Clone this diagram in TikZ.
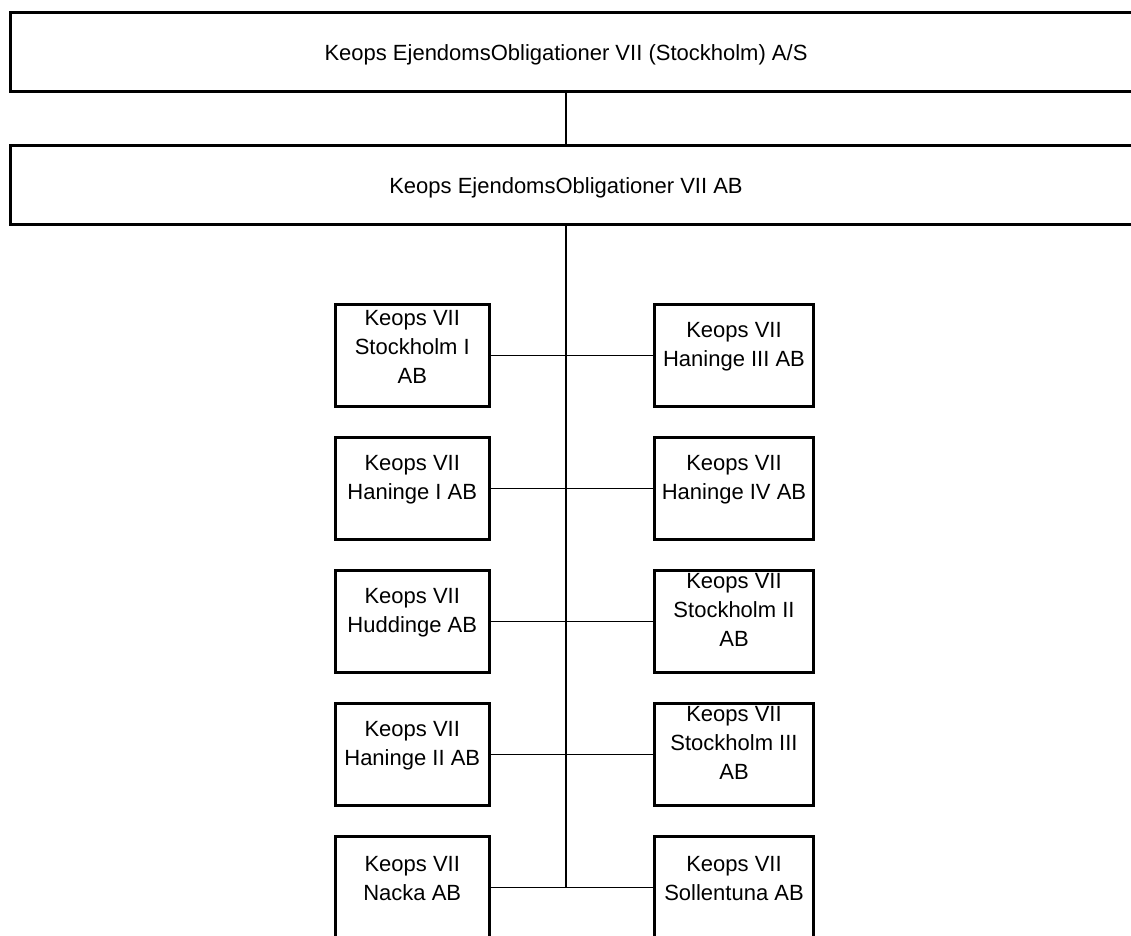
\documentclass[tikz,border=0pt]{standalone}
\usepackage{fontspec}
\setmainfont{Liberation Sans}
\begin{document}
\begin{tikzpicture}[x=1pt,y=-1pt,
  bigbox/.style={draw, line width=3pt, rectangle, inner sep=0pt, minimum width=1190pt, minimum height=79pt},
  cobox/.style={draw, line width=3pt, rectangle, inner sep=0pt, minimum height=102pt},
  lbox/.style={cobox, minimum width=154.5pt},
  rbox/.style={cobox, minimum width=159pt},
  txt/.style={align=center, font=\fontsize{22}{29}\selectfont, inner sep=0pt},
  link/.style={line width=1.2pt}]
\useasboundingbox (0,0) rectangle (1131,935);
\clip (0,0) rectangle (1131,935);
\fill[white] (0,0) rectangle (1131,935);
% top boxes
\node[bigbox] (top) at (605.5,52) {};
\node[txt] (topt) at (566,55) {Keops EjendomsObligationer VII (Stockholm) A/S};
\node[bigbox] (mid) at (605.5,185) {};
\node[txt] (midt) at (566,188) {Keops EjendomsObligationer VII AB};
% left column
\node[lbox] (L1) at (412.25,355.5) {};
\node[lbox] (L2) at (412.25,488.5) {};
\node[lbox] (L3) at (412.25,621.5) {};
\node[lbox] (L4) at (412.25,754.5) {};
\node[lbox] (L5) at (412.25,887.5) {};
% right column
\node[rbox] (R1) at (734,355.5) {};
\node[rbox] (R2) at (734,488.5) {};
\node[rbox] (R3) at (734,621.5) {};
\node[rbox] (R4) at (734,754.5) {};
\node[rbox] (R5) at (734,887.5) {};
% texts
\node[txt] (L1t) at ([yshift=9pt]L1.center) {Keops VII\\Stockholm I\\AB};
\node[txt] (L2t) at ([yshift=9pt]L2.center) {Keops VII\\Haninge I AB};
\node[txt] (L3t) at ([yshift=9pt]L3.center) {Keops VII\\Huddinge AB};
\node[txt] (L4t) at ([yshift=9pt]L4.center) {Keops VII\\Haninge II AB};
\node[txt] (L5t) at ([yshift=9pt]L5.center) {Keops VII\\Nacka AB};
\node[txt] (R1t) at ([yshift=9pt]R1.center) {Keops VII\\Haninge III AB};
\node[txt] (R2t) at ([yshift=9pt]R2.center) {Keops VII\\Haninge IV AB};
\node[txt] (R3t) at ([yshift=12pt]R3.center) {Keops VII\\Stockholm II\\AB};
\node[txt] (R4t) at ([yshift=12pt]R4.center) {Keops VII\\Stockholm III\\AB};
\node[txt] (R5t) at ([yshift=9pt]R5.center) {Keops VII\\Sollentuna AB};
% connectors
\coordinate (trunk) at (566,0);
\draw[link] (top.south -| trunk) -- (mid.north -| trunk);
\draw[link] (mid.south -| trunk) -- (L5.east -| trunk);
\foreach \i in {1,...,5}{
  \draw[link] (L\i.east) -- (R\i.west);
}
\end{tikzpicture}
\end{document}
